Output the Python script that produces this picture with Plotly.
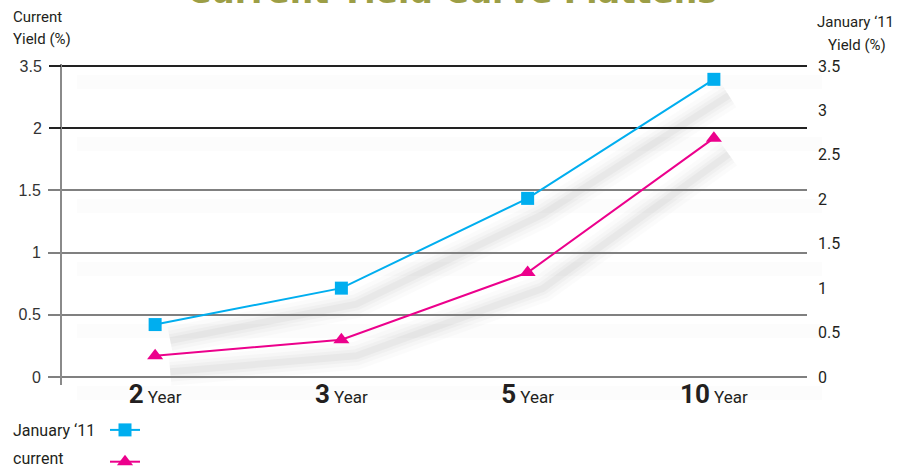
import plotly.graph_objects as go

# ---------------- data ----------------
categories = ["2", "3", "5", "10"]
jan11_yield = [0.59, 1.00, 2.01, 3.35]      # right axis (January '11)
current_yield = [0.17, 0.30, 0.84, 1.92]    # left axis (current)

left_light_vals = [0, 0.5, 1, 1.5]
left_light_text = ["0", "0.5", "1", "1.5"]
left_dark_vals = [2, 2.5]
left_dark_text = ["2", "3.5"]
right_vals = [0, 0.5, 1, 1.5, 2, 2.5, 3, 3.5]
right_text = ["0", "0.5", "1", "1.5", "2", "2.5", "3", "3.5"]

series_names = ["January \u201811", "current"]
title_text = "Current Yield Curve Flattens"

# ---------------- geometry helpers ----------------
W, H = 916, 468
ML, MR, MT, MB = 30, 50, 40, 40
PW, PH = W - ML - MR, H - MT - MB


def fx(px):
    return (px - ML) / PW


def fy(py):
    return (H - MB - py) / PH


# pixel layout of the main plot
P_L, P_R = 62, 807
TOPV_PX, ZERO = 66, 377          # pixel of top tick and of zero
P_T, P_B = 64, 385               # domain edges (slightly beyond the top tick)
SDX, SDY = 15, 16                # shadow offset

left_top = 2.5
right_top = 3.5
lu = left_top / (ZERO - TOPV_PX)     # value per pixel, left
ru = right_top / (ZERO - TOPV_PX)    # value per pixel, right
left_range = [-(P_B - ZERO) * lu, left_top + (TOPV_PX - P_T) * lu]
right_range = [-(P_B - ZERO) * ru, right_top + (TOPV_PX - P_T) * ru]

BLUE = "#00AEEF"
MAG = "#EC008C"
TXT = "#231F20"
FONT = "Roboto, Arial, sans-serif"

fig = go.Figure()

# ---------------- soft shadows (drawn on offset axes) ----------------
for w, a in [(28, 0.015), (20, 0.02), (13, 0.025), (7, 0.03)]:
    fig.add_trace(go.Scatter(x=categories, y=current_yield, xaxis="x", yaxis="y",
                             mode="lines", line=dict(color=f"rgba(0,0,0,{a})", width=w),
                             hoverinfo="skip", showlegend=False))
    fig.add_trace(go.Scatter(x=categories, y=jan11_yield, xaxis="x", yaxis="y2",
                             mode="lines", line=dict(color=f"rgba(0,0,0,{a})", width=w),
                             hoverinfo="skip", showlegend=False))

# ---------------- main series ----------------
fig.add_trace(go.Scatter(x=categories, y=current_yield, xaxis="x2", yaxis="y3",
                         name=series_names[1], mode="lines+markers",
                         line=dict(color=MAG, width=2),
                         marker=dict(symbol="triangle-up", size=14, color=MAG),
                         showlegend=False))
fig.add_trace(go.Scatter(x=categories, y=jan11_yield, xaxis="x2", yaxis="y5",
                         name=series_names[0], mode="lines+markers",
                         line=dict(color=BLUE, width=2),
                         marker=dict(symbol="square", size=13, color=BLUE),
                         showlegend=False))

# legend symbols (text is placed to their left as annotations)
fig.add_trace(go.Scatter(x=[None], y=[None], xaxis="x2", yaxis="y4", name="",
                         legendgroup="a", mode="lines+markers",
                         line=dict(color=BLUE, width=2),
                         marker=dict(symbol="square", size=13, color=BLUE)))
fig.add_trace(go.Scatter(x=[None], y=[None], xaxis="x2", yaxis="y3", name="",
                         legendgroup="b", mode="lines+markers",
                         line=dict(color=MAG, width=2),
                         marker=dict(symbol="triangle-up", size=14, color=MAG)))

cat_text = [f"<b><span style='font-size:26px'>{c}</span></b> Year" for c in categories]

fig.update_layout(
    width=W, height=H,
    margin=dict(l=ML, r=MR, t=MT, b=MB, autoexpand=False),
    paper_bgcolor="white", plot_bgcolor="rgba(0,0,0,0)",
    font=dict(family=FONT, color=TXT),
    showlegend=True,
    legend=dict(x=fx(105), y=fy(413), xanchor="left", yanchor="top",
                bgcolor="rgba(0,0,0,0)", font=dict(size=16),
                tracegroupgap=8, itemwidth=30),
    # shadow axes
    xaxis=dict(domain=[fx(P_L + SDX), fx(P_R + SDX)], type="category",
               range=[-0.5, 3.5], visible=False, anchor="y"),
    yaxis=dict(domain=[fy(P_B + SDY), fy(P_T + SDY)], range=left_range,
               showticklabels=False, ticks="", showline=False, zeroline=False,
               tickvals=left_light_vals + left_dark_vals, showgrid=True,
               gridcolor="rgba(0,0,0,0.01)", gridwidth=14, anchor="x"),
    yaxis2=dict(overlaying="y", range=right_range, visible=False),
    # main axes
    xaxis2=dict(domain=[fx(P_L), fx(P_R)], type="category", range=[-0.5, 3.5],
                anchor="y3", showgrid=False, showline=False, zeroline=False,
                ticks="", tickvals=categories, ticktext=cat_text,
                tickfont=dict(size=17, color=TXT, family=FONT)),
    yaxis3=dict(domain=[fy(P_B), fy(P_T)], anchor="x2", range=left_range,
                tickvals=left_light_vals, ticktext=left_light_text,
                showgrid=True, gridcolor="#808080", gridwidth=2,
                ticks="outside", ticklen=12, tickcolor="#808080", tickwidth=2,
                showline=True, linecolor="#8a8a8a", linewidth=2, zeroline=False,
                tickfont=dict(family="Liberation Sans, Arial", size=16, color="#333333"),
                ticklabelstandoff=4),
    yaxis4=dict(overlaying="y3", side="left", anchor="x2", range=left_range,
                tickvals=left_dark_vals, ticktext=left_dark_text,
                showgrid=True, gridcolor="#222222", gridwidth=1.5,
                ticks="outside", ticklen=12, tickcolor="#222222", tickwidth=1.5,
                showline=False, zeroline=False,
                tickfont=dict(family="Liberation Sans, Arial", size=16, color="#333333"),
                ticklabelstandoff=4),
    yaxis5=dict(overlaying="y3", side="right", anchor="x2", range=right_range,
                tickvals=right_vals, ticktext=right_text, showgrid=False,
                showline=False, zeroline=False, ticks="",
                tickfont=dict(size=16, color=TXT, family=FONT),
                ticklabelstandoff=10),
)

ann = []
ann.append(dict(text=f"<b>{title_text}</b>", x=fx(452), y=fy(13), xref="paper", yref="paper",
                xanchor="center", yanchor="bottom", showarrow=False,
                font=dict(family="DejaVu Sans, sans-serif", size=33, color="#9C9E46")))
ann.append(dict(text="Current", x=fx(11), y=fy(17), xref="paper", yref="paper",
                xanchor="left", yanchor="middle", showarrow=False, font=dict(size=15)))
ann.append(dict(text="Yield (%)", x=fx(11), y=fy(39), xref="paper", yref="paper",
                xanchor="left", yanchor="middle", showarrow=False, font=dict(size=15)))
ann.append(dict(text="January \u201811", x=fx(855), y=fy(22), xref="paper", yref="paper",
                xanchor="center", yanchor="middle", showarrow=False, font=dict(size=15)))
ann.append(dict(text="Yield (%)", x=fx(857), y=fy(45), xref="paper", yref="paper",
                xanchor="center", yanchor="middle", showarrow=False, font=dict(size=15)))
ann.append(dict(text=series_names[0], x=fx(11), y=fy(430), xref="paper", yref="paper",
                xanchor="left", yanchor="middle", showarrow=False, font=dict(size=16)))
ann.append(dict(text=series_names[1], x=fx(11), y=fy(458), xref="paper", yref="paper",
                xanchor="left", yanchor="middle", showarrow=False, font=dict(size=16)))
fig.update_layout(annotations=ann)

fig.write_html("out.html")
